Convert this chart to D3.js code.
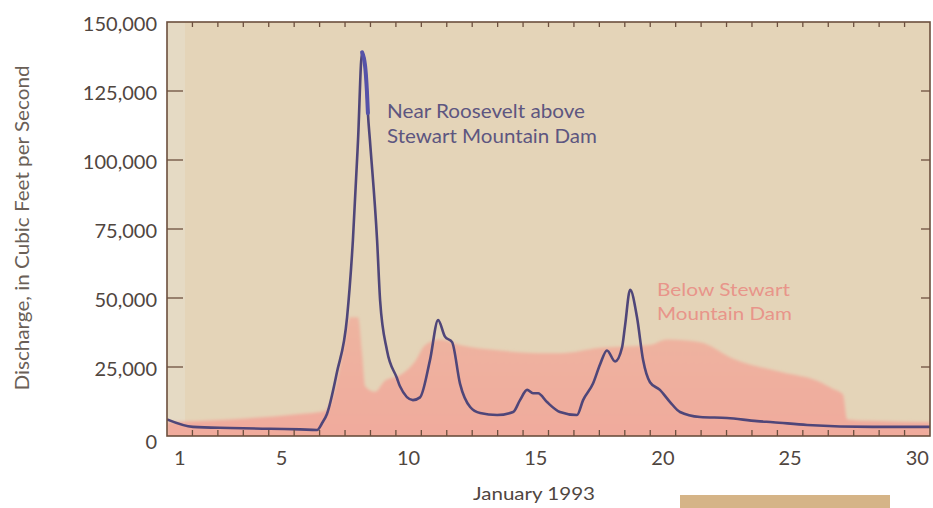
<!DOCTYPE html>
<html>
<head>
<meta charset="utf-8">
<script src="https://cdn.jsdelivr.net/npm/d3@7"></script>
<style>
  html, body { margin: 0; padding: 0; background: #ffffff; }
  svg { display: block; }
  text { font-family: Lato, "Open Sans", sans-serif; }
</style>
</head>
<body>
<svg id="chart" width="933" height="508"></svg>
<script>
// ---- data (t = day of January 1993, 1.0 = Jan 1 00:00) ----
const rooseveltT = [1.0, 2.02, 3.48, 5.05, 6.23, 6.9, 7.1, 7.29, 7.68, 8.08, 8.31, 8.51, 8.67, 8.79, 8.86, 8.9, 8.98, 9.26, 9.38, 9.65, 10.04, 10.16, 10.67, 10.95, 11.34, 11.66, 11.93, 12.21, 12.52, 12.92, 13.31, 13.98, 14.61, 14.88, 15.16, 15.39, 15.59, 15.94, 16.45, 17.12, 17.36, 17.75, 18.03, 18.3, 18.62, 18.89, 19.01, 19.21, 19.48, 19.72, 19.99, 20.38, 20.78, 21.17, 21.96, 23.02, 24.2, 24.83, 26.17, 28.76, 31.0];
const rooseveltQ = [6000, 3300, 2900, 2600, 2400, 2200, 4700, 8000, 23000, 43000, 71000, 107000, 139000, 134000, 125000, 117000, 107000, 71000, 49000, 31000, 21000, 18000, 13000, 14000, 27500, 42000, 36000, 34000, 19000, 10500, 8300, 7600, 8700, 13000, 16700, 15500, 15500, 12300, 8700, 7600, 13000, 19000, 26000, 31000, 27000, 32000, 40000, 53000, 43000, 27500, 19500, 16700, 12300, 8700, 6900, 6500, 5400, 5000, 4000, 3300, 3300];

const stewartT = [1.0, 3.48, 6.23, 7.2, 7.68, 7.99, 8.2, 8.51, 8.67, 8.79, 9.18, 9.57, 10.16, 10.75, 11.15, 11.74, 12.52, 14.1, 15.67, 16.45, 18.03, 19.99, 20.66, 21.96, 23.26, 25.22, 26.56, 27.19, 27.58, 27.74, 28.6, 31.0];
const stewartQ = [5000, 6000, 8000, 9000, 20000, 35000, 43000, 43000, 30000, 18000, 16000, 20000, 22000, 27000, 33000, 35000, 33000, 31000, 30000, 30000, 32000, 33000, 35000, 34000, 28000, 23000, 20000, 17000, 15000, 6000, 5500, 5000];

const yTicks = [0, 25000, 50000, 75000, 100000, 125000, 150000];
const dayLabels = [1, 5, 10, 15, 20, 25, 30];
const dayBoundaries = d3.range(2, 31);

// ---- layout ----
const svg = d3.select("#chart");
const L = 167, R = 930, T = 22, B = 436;
const x = d3.scaleLinear().domain([1, 31]).range([L, R]);
const y = d3.scaleLinear().domain([0, 150000]).range([B, T]);
const frame = "#6c4f3e";

const defs = svg.append("defs");
defs.append("clipPath").attr("id", "plotclip")
  .append("rect").attr("x", L).attr("y", T).attr("width", R - L).attr("height", B - T);
const blur = defs.append("filter").attr("id", "soft").attr("x", "-5%").attr("y", "-5%").attr("width", "110%").attr("height", "110%");
blur.append("feGaussianBlur").attr("stdDeviation", 1.8);
const grad = defs.append("linearGradient").attr("id", "pinkgrad").attr("x1", 0).attr("y1", 0).attr("x2", 0).attr("y2", 1);
grad.append("stop").attr("offset", "0%").attr("stop-color", "#eeb4a0");
grad.append("stop").attr("offset", "100%").attr("stop-color", "#f0aa9c");

// background
svg.append("rect").attr("x", L).attr("y", T).attr("width", R - L).attr("height", B - T).attr("fill", "#e4d4b8");
svg.append("rect").attr("x", L).attr("y", T).attr("width", 18).attr("height", B - T).attr("fill", "#e5dac4");

const plot = svg.append("g").attr("clip-path", "url(#plotclip)");

// pink area (below Stewart Mountain Dam)
const stewart = stewartT.map((t, i) => ({ t, q: stewartQ[i] }));
plot.append("path")
  .datum(stewart)
  .attr("fill", "url(#pinkgrad)")
  .attr("filter", "url(#soft)")
  .attr("d", d3.area().curve(d3.curveMonotoneX).x(d => x(d.t)).y0(B + 4).y1(d => y(d.q)));

// purple line (near Roosevelt)
const roosevelt = rooseveltT.map((t, i) => ({ t, q: rooseveltQ[i] }));
const lineGen = d3.line().curve(d3.curveMonotoneX).x(d => x(d.t)).y(d => y(d.q));
plot.append("path")
  .datum(roosevelt)
  .attr("fill", "none")
  .attr("stroke", "#4f4679")
  .attr("stroke-width", 2.6)
  .attr("stroke-linejoin", "round")
  .attr("d", lineGen);
// bluish thick crest at the peak
plot.append("path")
  .datum(roosevelt.filter(d => d.t >= 8.6 && d.t <= 8.9))
  .attr("fill", "none")
  .attr("stroke", "#5552a8")
  .attr("stroke-width", 4)
  .attr("stroke-linecap", "round")
  .attr("d", lineGen);

// frame
svg.append("rect").attr("x", L).attr("y", T).attr("width", R - L).attr("height", B - T)
  .attr("fill", "none").attr("stroke", frame).attr("stroke-width", 1.6);

// ticks
const tickG = svg.append("g").attr("stroke", frame).attr("stroke-width", 1.3);
dayBoundaries.forEach(d => {
  tickG.append("line").attr("x1", x(d)).attr("x2", x(d)).attr("y1", B).attr("y2", B - 6);
  tickG.append("line").attr("x1", x(d)).attr("x2", x(d)).attr("y1", T).attr("y2", T + 5);
});
yTicks.slice(1, -1).forEach(v => {
  tickG.append("line").attr("x1", L).attr("x2", L + 16).attr("y1", y(v)).attr("y2", y(v));
  tickG.append("line").attr("x1", R).attr("x2", R - 9).attr("y1", y(v)).attr("y2", y(v));
});

// y tick labels
const fmt = d3.format(",");
svg.append("g").selectAll("text").data(yTicks).join("text")
  .attr("x", 157)
  .attr("y", d => y(d) + (d === 0 ? 13 : 9))
  .attr("text-anchor", "end")
  .attr("font-size", 20)
  .attr("fill", "#50463f")
  .text(d => fmt(d));

// x tick labels
svg.append("g").selectAll("text").data(dayLabels).join("text")
  .attr("x", d => x(d + 0.5))
  .attr("y", 465)
  .attr("text-anchor", "middle")
  .attr("font-size", 20)
  .attr("fill", "#50463f")
  .text(d => d);

// axis titles
svg.append("text")
  .attr("transform", "translate(29,228) rotate(-90)")
  .attr("text-anchor", "middle")
  .attr("font-size", 19)
  .attr("fill", "#6a5f57")
  .attr("textLength", 325).attr("lengthAdjust", "spacingAndGlyphs")
  .text("Discharge, in Cubic Feet per Second");

svg.append("text")
  .attr("x", 473).attr("y", 500)
  .attr("font-size", 18)
  .attr("fill", "#50463f")
  .attr("textLength", 122).attr("lengthAdjust", "spacingAndGlyphs")
  .text("January 1993");

// series labels
const purpleTxt = svg.append("g").attr("fill", "#5d5680").attr("font-size", 19);
purpleTxt.append("text").attr("x", 387).attr("y", 118).attr("textLength", 198).attr("lengthAdjust", "spacingAndGlyphs").text("Near Roosevelt above");
purpleTxt.append("text").attr("x", 387).attr("y", 143).attr("textLength", 210).attr("lengthAdjust", "spacingAndGlyphs").text("Stewart Mountain Dam");

const pinkTxt = svg.append("g").attr("fill", "#e8958a").attr("font-size", 18);
pinkTxt.append("text").attr("x", 657).attr("y", 296).attr("textLength", 133).attr("lengthAdjust", "spacingAndGlyphs").text("Below Stewart");
pinkTxt.append("text").attr("x", 657).attr("y", 320).attr("textLength", 135).attr("lengthAdjust", "spacingAndGlyphs").text("Mountain Dam");

// tan box at bottom
svg.append("rect").attr("x", 680).attr("y", 495).attr("width", 210).attr("height", 13).attr("fill", "#d5b487");
</script>
</body>
</html>
